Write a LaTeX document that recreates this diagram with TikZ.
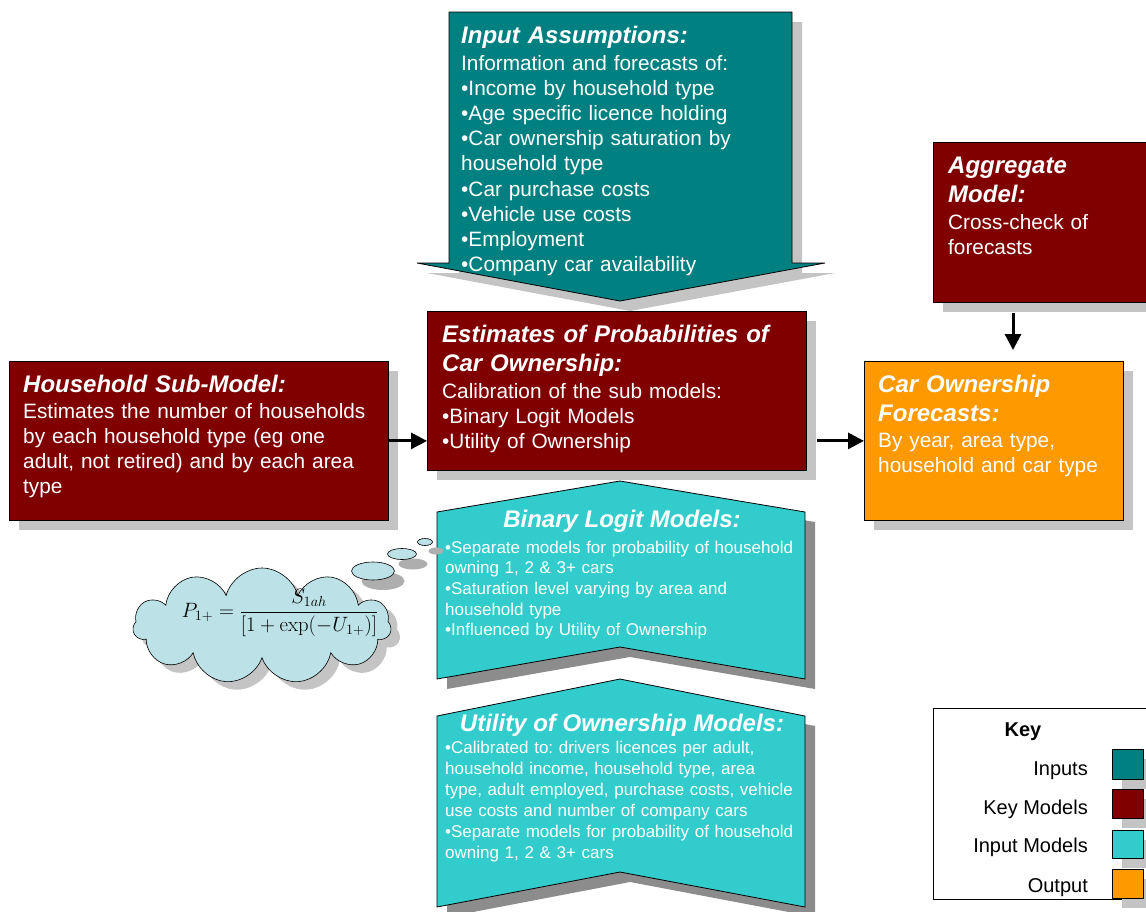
\documentclass[tikz,border=0pt]{standalone}
\usepackage[no-math]{fontspec}
\setmainfont{Liberation Sans}
\usetikzlibrary{arrows.meta,shapes.symbols,calc}
\definecolor{cTeal}{HTML}{008080}
\definecolor{cRed}{HTML}{800000}
\definecolor{cCyan}{HTML}{33CCCC}
\definecolor{cOrange}{HTML}{FF9900}
\definecolor{cCloud}{HTML}{BCE1E6}
\definecolor{cShadow}{HTML}{C4C4C4}
\definecolor{cShadowDark}{HTML}{8C8C8C}
\frenchspacing
\begin{document}
\begin{tikzpicture}[x=1pt,y=-1pt,
  boxnode/.style={draw=black, line width=0.8pt, inner sep=0, anchor=north west},
  shapeline/.style={draw=black, line width=0.8pt},
  ttl/.style={font=\fontsize{24}{29}\selectfont\bfseries\itshape, text=white, anchor=base west, inner sep=0, align=left, text width=360pt},
  bodytxt/.style={font=\fontsize{20.8}{25.2}\selectfont, text=white, anchor=base west, inner sep=0, align=left, text width=370pt},
  smalltxt/.style={font=\fontsize{17}{20.7}\selectfont, text=white, anchor=base west, inner sep=0, align=left, text width=370pt},
  ctitle/.style={font=\fontsize{24}{29}\selectfont\bfseries\itshape, text=white, anchor=base, inner sep=0},
  keytxt/.style={font=\fontsize{20}{24}\selectfont, text=black, anchor=base east, inner sep=0},
  keysq/.style={draw=black, line width=0.6pt, inner sep=0, anchor=north west, minimum width=31pt, minimum height=30pt},
  arr/.style={line width=3pt, -{Triangle[length=16pt,width=16pt]}}
]
\useasboundingbox (0,0) rectangle (1146,911);

% ---------- Top arrow (Input Assumptions) ----------
\fill[cShadow] (459,22) -- (802,22) -- (802,273) -- (835,273) -- (630,311) -- (427,273) -- (459,273) -- cycle;
\path[shapeline, fill=cTeal] (449,12) -- (792,12) -- (792,263) -- (825,263) -- (620,301) -- (417,263) -- (449,263) -- cycle;
\coordinate (inTip) at (620,301);
\node[ttl] (inT) at (461,43) {Input Assumptions:};
\node[bodytxt, text width=340pt] (inB) at (461,70) {Information and forecasts of:\\
•Income by household type\\
•Age specific licence holding\\
•Car ownership saturation by\\
household type\\
•Car purchase costs\\
•Vehicle use costs\\
•Employment\\
•Company car availability};

% ---------- Household box ----------
\fill[cShadow] (19,371) rectangle (398,530);
\node[boxnode, fill=cRed, minimum width=379pt, minimum height=159pt] (hh) at (9,361) {};
\node[ttl] (hhT) at (23,392) {Household Sub-Model:};
\node[bodytxt] (hhB) at (23,418) {Estimates the number of households\\
by each household type (eg one\\
adult, not retired) and by each area\\
type};

% ---------- Estimates box ----------
\fill[cShadow] (437,321) rectangle (816,480);
\node[boxnode, fill=cRed, minimum width=379pt, minimum height=159pt] (est) at (427,311) {};
\node[ttl] (estT) at (442,342) {Estimates of Probabilities of\\Car Ownership:};
\node[bodytxt] (estB) at (442,398) {Calibration of the sub models:\\
•Binary Logit Models\\
•Utility of Ownership};

% ---------- Aggregate box ----------
\fill[cShadow] (943,152) rectangle (1170,312);
\node[boxnode, fill=cRed, minimum width=227pt, minimum height=160pt] (agg) at (933,142) {};
\node[ttl, text width=190pt] (aggT) at (948,173) {Aggregate\\Model:};
\node[bodytxt, text width=190pt] (aggB) at (948,229) {Cross-check of\\forecasts};
\coordinate (aggOut) at (1013,313);

% ---------- Car Ownership Forecasts ----------
\fill[cShadow] (874,371) rectangle (1133,530);
\node[boxnode, fill=cOrange, minimum width=259pt, minimum height=159pt] (car) at (864,361) {};
\node[ttl, text width=240pt] (carT) at (878,392) {Car Ownership\\Forecasts:};
\node[bodytxt, text width=240pt] (carB) at (878,447) {By year, area type,\\household and car type};

% ---------- Binary Logit Models ----------
\fill[cShadowDark] (447,522) -- (630,491) -- (815,522) -- (815,689) -- (630,657) -- (447,689) -- cycle;
\path[shapeline, fill=cCyan] (437,512) -- (620,481) -- (805,512) -- (805,679) -- (620,647) -- (437,679) -- cycle;
\node[ctitle] (binT) at (622,527) {Binary Logit Models:};
\node[smalltxt] (binB) at (445,553) {•Separate models for probability of household\\
owning 1, 2 \& 3+ cars\\
•Saturation level varying by area and\\
household type\\
•Influenced by Utility of Ownership};

% ---------- Utility of Ownership Models ----------
\fill[cShadowDark] (447,726) -- (630,689) -- (815,726) -- (815,917) -- (630,882) -- (447,917) -- cycle;
\path[shapeline, fill=cCyan] (437,716) -- (620,679) -- (805,716) -- (805,907) -- (620,872) -- (437,907) -- cycle;
\node[ctitle] (utlT) at (622,731) {Utility of Ownership Models:};
\node[smalltxt, font=\fontsize{17}{21}\selectfont] (utlB) at (445,753) {•Calibrated to: drivers licences per adult,\\
household income, household type, area\\
type, adult employed, purchase costs, vehicle\\
use costs and number of company cars\\
•Separate models for probability of household\\
owning 1, 2 \& 3+ cars};

% ---------- Thought cloud ----------
\fill[cShadowDark!70] (436,551) ellipse [x radius=7.5, y radius=3.5];
\fill[cShadowDark!70] (413,564) ellipse [x radius=14.5, y radius=5.5];
\fill[cShadowDark!70] (383,581) ellipse [x radius=21.5, y radius=9];
\node[cloud, cloud puffs=11, aspect=2.3, minimum width=258pt, minimum height=116pt, inner sep=0, fill=cShadow, draw=none] (cloudSh) at (271,634) {};
\node[cloud, cloud puffs=11, aspect=2.3, minimum width=258pt, minimum height=116pt, inner sep=0, fill=cCloud, draw=black, line width=0.6pt] (cloud) at (262,626) {};
\draw[fill=cCloud, line width=0.6pt] (373,571) ellipse [x radius=21.5, y radius=9];
\draw[fill=cCloud, line width=0.6pt] (402,554) ellipse [x radius=14.5, y radius=5.5];
\draw[fill=cCloud, line width=0.6pt] (425,542) ellipse [x radius=7.5, y radius=3.5];
\node[inner sep=0] (formula) at (280,613) {\fontsize{22}{26}\selectfont $\displaystyle P_{1+}=\frac{S_{1ah}}{\bigl[1+\exp(-U_{1+})\bigr]}$};

% ---------- Connectors ----------
\draw[arr] (hh.east) -- (hh.east -| est.west);
\draw[arr] ([xshift=10pt]car.west -| est.east) -- (car.west);
\draw[arr, shorten >=11pt] (aggOut) -- (aggOut |- car.north);

% ---------- Key ----------
\node[boxnode, fill=white, minimum width=227pt, minimum height=191pt] (key) at (933,708) {};
\node[font=\fontsize{20}{24}\selectfont\bfseries, anchor=base, inner sep=0] (keyT) at (1023,736) {Key};
\node[keytxt] (k1) at (1088,775) {Inputs};
\node[keytxt] (k2) at (1088,814) {Key Models};
\node[keytxt] (k3) at (1088,852) {Input Models};
\node[keytxt] (k4) at (1088,892) {Output};
\fill[cShadow] (1122,759) rectangle (1153,789);
\fill[cShadow] (1122,799) rectangle (1153,828);
\fill[cShadow] (1122,840) rectangle (1153,868);
\fill[cShadow] (1122,879) rectangle (1153,908);
\node[keysq, fill=cTeal] (s1) at (1112,749) {};
\node[keysq, fill=cRed, minimum height=29pt] (s2) at (1112,789) {};
\node[keysq, fill=cCyan, minimum height=28pt] (s3) at (1112,830) {};
\node[keysq, fill=cOrange, minimum height=29pt] (s4) at (1112,869) {};
\end{tikzpicture}
\end{document}
